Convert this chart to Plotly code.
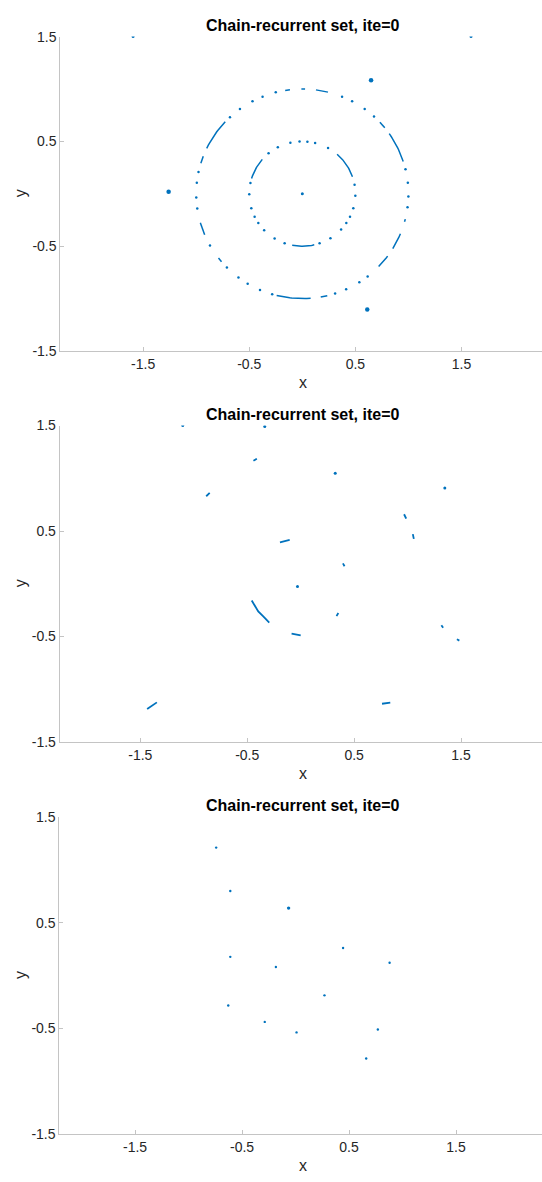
import numpy as np
import plotly.graph_objects as go

# ---------------- data ----------------
TITLE = "Chain-recurrent set, ite=0"
TICK_VALS = [-1.5, -0.5, 0.5, 1.5]
TICK_TEXT = ["-1.5", "-0.5", "0.5", "1.5"]
Y_TICK_VALS = [-1.5, -0.5, 0.5, 1.5]
Y_TICK_TEXT = ["-1.5", "-0.5", "0.5", "1.5"]

# Panel 1: pieces of the two invariant circles (radius, start deg, end deg)
outer_radius = 1.0
outer_arcs = [(18, 35), (39, 43), (76, 82.6), (88.5, 90.5), (96.7, 99.3),
              (136.6, 154.3), (159, 163), (196, 203), (217.8, 220.4),
              (256, 274.5), (280, 283.6), (316, 323.5), (328.5, 337.6),
              (344.5, 346)]
outer_dots = [6, 13.5, 47.5, 54, 62, 68, 104.5, 112, 118, 126, 133, 168,
              174, 182, 188, 209.5, 224.7, 233, 239, 246.5, 253.5, 288,
              294.4, 302.5, 308, 352.6, 358.5]
inner_radius = 0.5
inner_arcs = [(19, 49), (139, 163), (259, 283)]
inner_dots = [10, 358, 61, 76, 84.5, 93, 103, 117.5, 129.5, 168, 180.5,
              196, 206, 214, 224, 238.5, 250.5, 289, 302, 317, 326, 334, 344]
p1_small_x = [-1.595, 1.59, 0.0]
p1_small_y = [1.5, 1.5, 0.0]
p1_big_x = [0.648, -1.26, 0.612]
p1_big_y = [1.083, 0.02, -1.105]

# Panel 2: short pieces (polylines) and isolated points
p2_pieces = [
    ([-0.442, -0.41], [1.167, 1.185]),
    ([-0.884, -0.851], [0.83, 0.861]),
    ([0.967, 0.987], [0.659, 0.617]),
    ([1.049, 1.058], [0.471, 0.425]),
    ([-0.194, -0.103], [0.393, 0.415]),
    ([0.395, 0.41], [0.193, 0.166]),
    ([-0.458, -0.427, -0.397, -0.35, -0.294], [-0.159, -0.215, -0.262, -0.309, -0.368]),
    ([0.335, 0.352], [-0.307, -0.277]),
    ([-0.085, 0.0], [-0.473, -0.489]),
    ([1.316, 1.332], [-0.393, -0.417]),
    ([1.461, 1.484], [-0.527, -0.539]),
    ([0.761, 0.838], [-1.138, -1.128]),
    ([-1.436, -1.345], [-1.188, -1.125]),
]
p2_dot_x = [-1.103, -0.336, 0.323, 1.348, -0.03]
p2_dot_y = [1.5, 1.491, 1.048, 0.907, -0.025]

# Panel 3: isolated points
p3_dot_x = [-0.742, -0.61, -0.61, -0.184, 0.444, 0.879, 0.27, -0.629,
            -0.288, 0.009, 0.769, 0.66]
p3_dot_y = [1.21, 0.8, 0.177, 0.081, 0.261, 0.121, -0.187, -0.283,
            -0.438, -0.537, -0.51, -0.784]
p3_big_x = [-0.065]
p3_big_y = [0.638]

# ---------------- style ----------------
W, H = 542, 1182
BLUE = "#0072BD"
AX_COL = "#c4c4c4"
TXT_COL = "#262626"
FONT = "Liberation Sans, Arial, Helvetica, sans-serif"

# pixel geometry of the three axes: (left px, top px, bottom px, x at left edge, x at right edge)
panels = [
    (60.3, 29.0, 347.7, -2.281, 2.259),
    (59.7, 423.3, 744.0, -2.254, 2.257),
    (59.3, 820.0, 1141.7, -2.208, 2.303),
]


def arc_xy(r, arcs):
    xs, ys = [], []
    for a0, a1 in arcs:
        n = max(2, int(abs(a1 - a0)) + 1)
        t = np.radians(np.linspace(a0, a1, n))
        xs += list(r * np.cos(t)) + [None]
        ys += list(r * np.sin(t)) + [None]
    return xs, ys


def dots_xy(r, angles):
    t = np.radians(np.array(angles, dtype=float))
    return list(r * np.cos(t)), list(r * np.sin(t))


fig = go.Figure()

# ---- panel 1 ----
for r, arcs, dots in [(outer_radius, outer_arcs, outer_dots),
                      (inner_radius, inner_arcs, inner_dots)]:
    ax_, ay_ = arc_xy(r, arcs)
    fig.add_trace(go.Scatter(x=ax_, y=ay_, mode="lines",
                             line=dict(color=BLUE, width=1.5),
                             xaxis="x", yaxis="y", hoverinfo="skip"))
    dx_, dy_ = dots_xy(r, dots)
    fig.add_trace(go.Scatter(x=dx_, y=dy_, mode="markers",
                             marker=dict(color=BLUE, size=2.5, line=dict(width=0)),
                             xaxis="x", yaxis="y", hoverinfo="skip"))
fig.add_trace(go.Scatter(x=p1_small_x, y=p1_small_y, mode="markers",
                         marker=dict(color=BLUE, size=3, line=dict(width=0)),
                         xaxis="x", yaxis="y"))
fig.add_trace(go.Scatter(x=p1_big_x, y=p1_big_y, mode="markers",
                         marker=dict(color=BLUE, size=4.5, line=dict(width=0)),
                         xaxis="x", yaxis="y"))

# ---- panel 2 ----
px2, py2 = [], []
for xs, ys in p2_pieces:
    px2 += xs + [None]
    py2 += ys + [None]
fig.add_trace(go.Scatter(x=px2, y=py2, mode="lines",
                         line=dict(color=BLUE, width=1.8),
                         xaxis="x2", yaxis="y2"))
fig.add_trace(go.Scatter(x=p2_dot_x, y=p2_dot_y, mode="markers",
                         marker=dict(color=BLUE, size=3, line=dict(width=0)),
                         xaxis="x2", yaxis="y2"))

# ---- panel 3 ----
fig.add_trace(go.Scatter(x=p3_dot_x, y=p3_dot_y, mode="markers",
                         marker=dict(color=BLUE, size=2.4, line=dict(width=0)),
                         xaxis="x3", yaxis="y3"))
fig.add_trace(go.Scatter(x=p3_big_x, y=p3_big_y, mode="markers",
                         marker=dict(color=BLUE, size=3.4, line=dict(width=0)),
                         xaxis="x3", yaxis="y3"))

layout = dict(
    width=W, height=H,
    margin=dict(l=0, r=0, t=0, b=0),
    paper_bgcolor="white", plot_bgcolor="white",
    showlegend=False,
    font=dict(family=FONT, color=TXT_COL, size=14),
)

annotations = []
for i, (left, top, bottom, x0, x1) in enumerate(panels):
    sfx = "" if i == 0 else str(i + 1)
    common = dict(showgrid=False, zeroline=False, showline=True,
                  linecolor=AX_COL, linewidth=1, ticks="inside", ticklen=4,
                  tickcolor=AX_COL, tickwidth=1,
                  tickfont=dict(family=FONT, size=14, color=TXT_COL),
                  fixedrange=True)
    layout["xaxis" + sfx] = dict(common, domain=[left / W, 1.0], range=[x0, x1],
                                 tickvals=TICK_VALS, ticktext=TICK_TEXT,
                                 anchor="y" + sfx)
    layout["yaxis" + sfx] = dict(common, domain=[1 - bottom / H, 1 - top / H],
                                 range=[-1.5, 1.5], tickvals=Y_TICK_VALS,
                                 ticktext=Y_TICK_TEXT, anchor="x" + sfx)
    # title
    annotations.append(dict(text="<b>" + TITLE + "</b>", xref="paper", yref="paper",
                            x=302.5 / W, y=1 - (top - 11.5) / H, xanchor="center",
                            yanchor="middle", showarrow=False,
                            font=dict(family=FONT, size=16, color="#000000")))
    # axis labels
    annotations.append(dict(text="x", xref="paper", yref="paper",
                            x=302.5 / W, y=1 - (bottom + 31.5) / H,
                            xanchor="center", yanchor="middle", showarrow=False,
                            font=dict(family=FONT, size=16, color=TXT_COL)))
    annotations.append(dict(text="y", xref="paper", yref="paper",
                            x=20.5 / W, y=1 - ((top + bottom) / 2) / H,
                            xanchor="center", yanchor="middle", textangle=-90,
                            showarrow=False,
                            font=dict(family=FONT, size=16, color=TXT_COL)))

layout["annotations"] = annotations
fig.update_layout(**layout)
fig.write_html("out.html")
